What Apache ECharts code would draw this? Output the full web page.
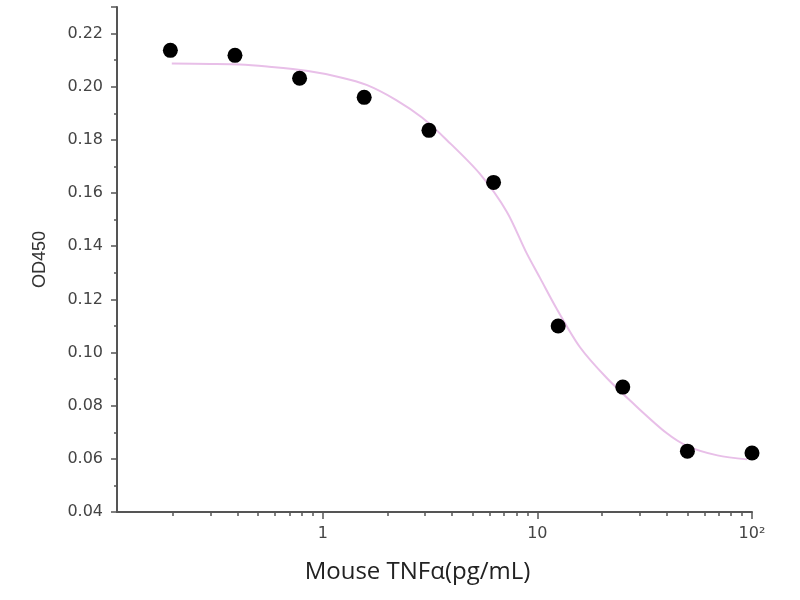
<!DOCTYPE html>
<html>
<head>
<meta charset="utf-8">
<style>html,body{margin:0;padding:0;background:#fff;}#c{width:800px;height:600px;}</style>
<script src="https://cdn.jsdelivr.net/npm/echarts@6/dist/echarts.min.js"></script>
</head>
<body>
<div id="c"></div>
<script>
// Measured points
const concentrations = [0.195, 0.39, 0.78, 1.56, 3.125, 6.25, 12.5, 25, 50, 100];
const od450 = [0.2137, 0.2118, 0.2032, 0.1960, 0.1836, 0.1640, 0.1100, 0.0870, 0.0629, 0.0622];

// Fitted curve
const curveX = [0.198, 0.30, 0.41, 0.55, 0.84, 1.2, 1.6, 2.2, 2.9, 3.8, 5.4, 7.2, 8.9, 10.3, 12.3, 15.8, 21, 28, 40, 50, 69, 95];
const curveY = [0.2087, 0.2086, 0.2084, 0.2076, 0.2060, 0.2036, 0.2007, 0.1950, 0.1884, 0.1798, 0.1672, 0.1530, 0.1375, 0.1280, 0.1165, 0.1020, 0.0905, 0.0808, 0.0697, 0.0648, 0.0613, 0.0598];

// Axis ticks
const xMajorTicks = [1, 10, 100];
const xMajorLabels = ['1', '10', '10\u00B2'];
const xMinorTicks = [0.2, 0.3, 0.4, 0.5, 0.6, 0.7, 0.8, 0.9, 2, 3, 4, 5, 6, 7, 8, 9, 20, 30, 40, 50, 60, 70, 80, 90];
const yTickLabels = ['0.04', '0.06', '0.08', '0.10', '0.12', '0.14', '0.16', '0.18', '0.20', '0.22'];

const chart = echarts.init(document.getElementById('c'));
const axisColor = '#555';
const xMin = 0.11, xMax = 100;

chart.setOption({
  backgroundColor: '#fff',
  animation: false,
  grid: { left: 117, right: 48, top: 7, bottom: 88, containLabel: false },
  xAxis: [
    {
      type: 'log', min: xMin, max: xMax, logBase: 10,
      name: 'Mouse TNF\u03B1(pg/mL)', nameLocation: 'middle', nameGap: 48,
      nameTextStyle: { fontFamily: 'Open Sans', fontSize: 24, color: '#222', padding: [0, 34, 0, 0] },
      axisLine: { lineStyle: { color: axisColor, width: 2 } },
      axisTick: { show: true, inside: false, length: 7, customValues: xMajorTicks, lineStyle: { color: axisColor, width: 1.5 } },
      axisLabel: {
        customValues: xMajorTicks, margin: 14, color: '#444', fontFamily: 'DejaVu Sans', fontSize: 16,
        formatter: function (v) { const i = xMajorTicks.findIndex(t => Math.abs(t - v) < 1e-9); return i >= 0 ? xMajorLabels[i] : ''; }
      },
      splitLine: { show: false }, minorTick: { show: false }, minorSplitLine: { show: false }
    },
    {
      type: 'log', min: xMin, max: xMax, logBase: 10, position: 'bottom', gridIndex: 0,
      axisLine: { show: false },
      axisTick: { show: true, inside: false, length: 4, customValues: xMinorTicks, lineStyle: { color: axisColor, width: 1.5 } },
      axisLabel: { show: false },
      splitLine: { show: false }
    }
  ],
  yAxis: {
    type: 'value', min: 0.04, max: 0.23, interval: 0.02,
    name: 'OD450', nameLocation: 'middle', nameGap: 68, nameRotate: 90,
    nameTextStyle: { fontFamily: 'Liberation Sans', fontSize: 18, color: '#333' },
    axisLine: { show: true, lineStyle: { color: axisColor, width: 2 } },
    axisTick: { show: true, inside: false, length: 6, lineStyle: { color: axisColor, width: 1.5 } },
    minorTick: { show: true, splitNumber: 2, length: 3, lineStyle: { color: axisColor, width: 1.5 } },
    axisLabel: {
      margin: 14, color: '#444', fontFamily: 'DejaVu Sans', fontSize: 16,
      formatter: function (v) { const s = v.toFixed(2); return yTickLabels.indexOf(s) >= 0 ? s : ''; }
    },
    splitLine: { show: false }
  },
  series: [
    {
      type: 'line', xAxisIndex: 0, smooth: 0.3, showSymbol: false, symbol: 'none',
      lineStyle: { color: '#e8bfe8', width: 2 },
      data: curveX.map((x, i) => [x, curveY[i]]), z: 1
    },
    {
      type: 'scatter', xAxisIndex: 0, symbol: 'circle', symbolSize: 15,
      itemStyle: { color: '#000', opacity: 1 },
      data: concentrations.map((x, i) => [x, od450[i]]), z: 3
    }
  ]
});
</script>
</body>
</html>
